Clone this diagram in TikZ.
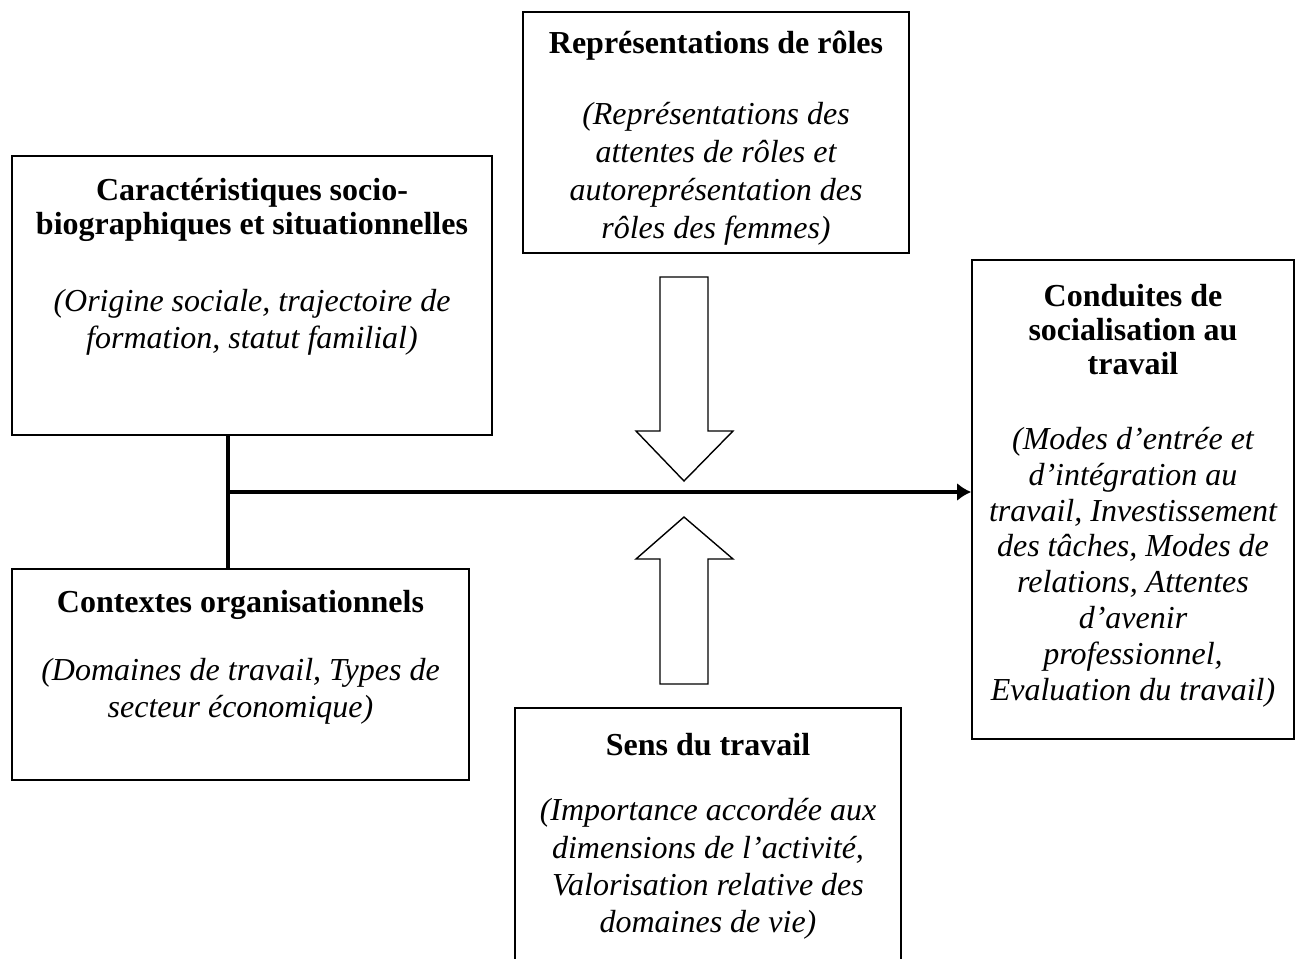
\documentclass[tikz,border=0pt]{standalone}
\usepackage{fontspec}
\setmainfont{Liberation Serif}
\usetikzlibrary{arrows.meta}
\begin{document}
\begin{tikzpicture}[x=1pt,y=-1pt,
  box/.style={draw, line width=1.6pt, inner sep=0pt},
  ttl/.style={align=center, font=\fontsize{32}{34}\selectfont\bfseries, inner sep=0pt},
  desc/.style={align=center, font=\fontsize{32}{36.5}\selectfont\itshape, inner sep=0pt},
  link/.style={line width=3.8pt},
  blockarrow/.style={draw, line width=1.4pt, fill=white, line join=miter}
]
\useasboundingbox (0,0) rectangle (1302,959);
\fill[white] (0,0) rectangle (1302,959);

% boxes
\node[box, minimum width=480pt, minimum height=279pt] (caract) at (252,295.5) {};
\node[box, minimum width=386pt, minimum height=241pt] (rep) at (716,132.5) {};
\node[box, minimum width=322pt, minimum height=479pt] (cond) at (1133,499.5) {};
\node[box, minimum width=457pt, minimum height=211pt] (ctx) at (240.5,674.5) {};
\node[box, minimum width=386pt, minimum height=280pt] (sens) at (708,848) {};

% texts
\node[ttl] (caractT) at (252,209.5) {Caractéristiques socio-\\biographiques et situationnelles};
\node[desc] (caractD) at (252,322.5) {(Origine sociale, trajectoire de\\formation, statut familial)};

\node[ttl] (repT) at (716,46) {Représentations de rôles};
\node[desc, font=\fontsize{32}{38}\selectfont\itshape] (repD) at (716,173.5) {(Représentations des\\attentes de rôles et\\autoreprésentation des\\rôles des femmes)};

\node[ttl] (condT) at (1133,329.5) {Conduites de\\socialisation au\\travail};
\node[desc, font=\fontsize{32}{35.8}\selectfont\itshape] (condD) at (1133,567) {(Modes d’entrée et\\d’intégration au\\travail, Investissement\\des tâches, Modes de\\relations, Attentes\\d’avenir\\professionnel,\\Evaluation du travail)};

\node[ttl] (ctxT) at (240.5,605) {Contextes organisationnels};
\node[desc] (ctxD) at (240.5,691.5) {(Domaines de travail, Types de\\secteur économique)};

\node[ttl] (sensT) at (708,745) {Sens du travail};
\node[desc, font=\fontsize{32}{37.3}\selectfont\itshape] (sensD) at (708,869) {(Importance accordée aux\\dimensions de l’activité,\\Valorisation relative des\\domaines de vie)};

% connectors
\coordinate (jn) at (228,492);
\draw[link] (caract.south -| jn) -- (ctx.north -| jn);
\draw[link, -{Latex[length=14pt,width=18pt]}] (jn) -- (jn -| cond.west);

% block arrows
\draw[blockarrow] (660,277) -- (708,277) -- (708,431) -- (733,431) -- (684,481) -- (636,431) -- (660,431) -- cycle;
\draw[blockarrow] (684,517) -- (733,559) -- (708,559) -- (708,684) -- (660,684) -- (660,559) -- (636,559) -- cycle;
\end{tikzpicture}
\end{document}
